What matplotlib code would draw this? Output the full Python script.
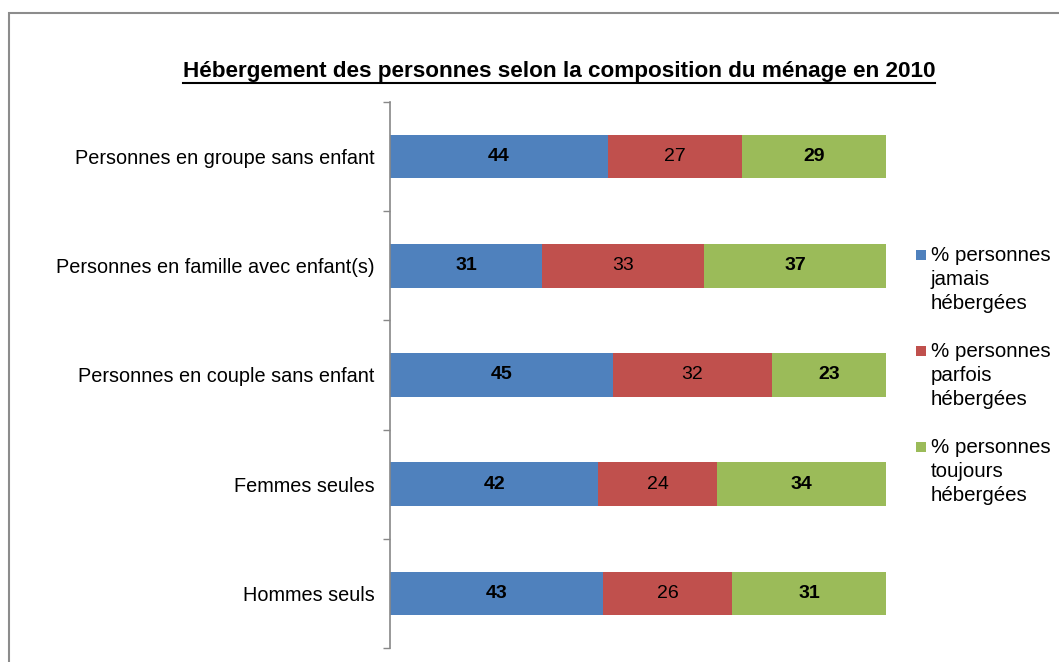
import matplotlib
matplotlib.use("Agg")
import matplotlib.pyplot as plt
from matplotlib.patches import Rectangle
from matplotlib.lines import Line2D
import numpy as np

plt.rcParams['font.family'] = ['Liberation Sans', 'DejaVu Sans']

categories = ["Personnes en groupe sans enfant",
              "Personnes en famille avec enfant(s)",
              "Personnes en couple sans enfant",
              "Femmes seules",
              "Hommes seuls"]
jamais = [44, 31, 45, 42, 43]
parfois = [27, 33, 32, 24, 26]
toujours = [29, 37, 23, 34, 31]
series_labels = ["% personnes\njamais\nhébergées",
                 "% personnes\nparfois\nhébergées",
                 "% personnes\ntoujours\nhébergées"]
colors = ["#4F81BD", "#C0504D", "#9BBB59"]
bold_flags = [True, False, True]
title = "Hébergement des personnes selon la composition du ménage en 2010"

W, H = 1059, 662
fig = plt.figure(figsize=(W / 100, H / 100), dpi=100)

# outer frame
fig.patches.append(Rectangle((9 / W, -0.1), 1.2, 1 - 13 / H + 0.1, transform=fig.transFigure,
                             fill=False, edgecolor="#8c8c8c", linewidth=1.5))

ax = fig.add_axes([390 / W, 1 - 648 / H, (886 - 390) / W, (648 - 102) / H])

data = np.array([jamais, parfois, toujours], dtype=float)
totals = data.sum(axis=0)
pct = data / totals * 100
y = np.arange(len(categories))
left = np.zeros(len(categories))
for i in range(3):
    bars = ax.barh(y, pct[i], left=left, height=0.4, color=colors[i], edgecolor="none")
    for j, b in enumerate(bars):
        ax.text(left[j] + pct[i][j] / 2, y[j], str(int(data[i][j])), ha="center", va="center",
                fontsize=14, fontweight="bold" if bold_flags[i] else "normal", color="black")
    left += pct[i]

ax.set_xlim(0, 100)
ax.set_ylim(len(categories) - 0.5, -0.5)
ax.set_yticks(y)
ax.set_yticklabels(categories, fontsize=14.3)
ax.set_yticks(np.arange(-0.5, len(categories)), minor=True)
ax.tick_params(axis="y", which="major", length=0, pad=11)
ax.tick_params(axis="y", which="minor", length=5, color="#888888", width=1)
ax.set_xticks([])
for s in ["top", "right", "bottom"]:
    ax.spines[s].set_visible(False)
ax.spines["left"].set_color("#888888")
ax.spines["left"].set_linewidth(1.2)

# legend (manual, square aligned to first line of each entry)
leg_first_line_px = [255, 351, 447]
for k, (lab, col) in enumerate(zip(series_labels, colors)):
    yc = leg_first_line_px[k]
    fig.patches.append(Rectangle((916 / W, 1 - (yc + 5) / H), 10 / W, 10 / H,
                                 transform=fig.transFigure, facecolor=col, edgecolor="none"))
    fig.text(931 / W, 1 - (yc - 9) / H, lab, ha="left", va="top", fontsize=14.8,
             linespacing=1.32)

tt = fig.text(559 / W, 1 - 72 / H, title, ha="center", va="center", fontsize=16.2, fontweight="bold")
fig.canvas.draw()
bb = tt.get_window_extent().transformed(fig.transFigure.inverted())
fig.lines.append(Line2D([bb.x0, bb.x1], [bb.y0 - 0.5 / H, bb.y0 - 0.5 / H], transform=fig.transFigure,
                        color="black", linewidth=1.5))

fig.savefig("out.png", dpi=100)
